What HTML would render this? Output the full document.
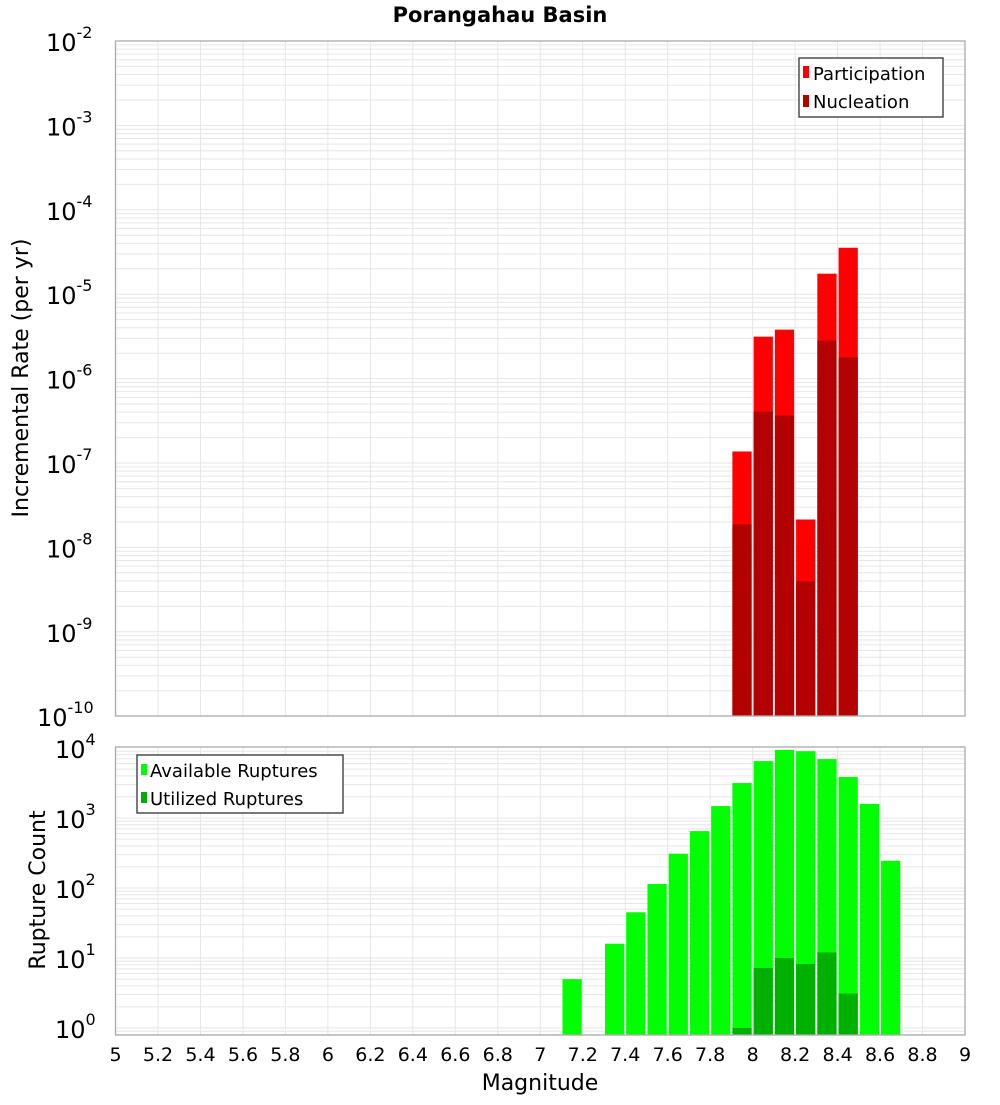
<!DOCTYPE html>
<html><head><meta charset="utf-8"><style>
body{margin:0;background:#fff;}
svg text{font-family:"DejaVu Sans","Liberation Sans",sans-serif;}
</style></head><body>
<svg id="c" width="1000" height="1100" xmlns="http://www.w3.org/2000/svg">
<text x="500" y="22" text-anchor="middle" font-size="21" font-weight="bold">Porangahau Basin</text>
<g id="top"></g>
<g id="bot"></g>
<text transform="translate(28,378) rotate(-90)" text-anchor="middle" font-size="22">Incremental Rate (per yr)</text>
<text transform="translate(45,890) rotate(-90)" text-anchor="middle" font-size="22">Rupture Count</text>
<text x="540" y="1090" text-anchor="middle" font-size="22">Magnitude</text>
<g>
<rect x="799" y="58" width="144" height="59" fill="#fff" stroke="#333" stroke-width="1.3"/>
<rect x="803" y="66" width="6" height="12" fill="#ff0000"/>
<text x="813" y="80" font-size="18">Participation</text>
<rect x="803" y="95" width="6" height="12" fill="#b30000"/>
<text x="813" y="108" font-size="18">Nucleation</text>
</g>
<g>
<rect x="137" y="755" width="206" height="58" fill="#fff" stroke="#333" stroke-width="1.3"/>
<rect x="141" y="764" width="6" height="11" fill="#00ff00"/>
<text x="150" y="777" font-size="18">Available Ruptures</text>
<rect x="141" y="792" width="6" height="11" fill="#00b000"/>
<text x="150" y="805" font-size="18">Utilized Ruptures</text>
</g>
</svg>
<script>
const magBins=[7.15,7.25,7.35,7.45,7.55,7.65,7.75,7.85,7.95,8.05,8.15,8.25,8.35,8.45,8.55,8.65];
const rateMags=[7.95,8.05,8.15,8.25,8.35,8.45];
const participation=[1.37e-7,3.14e-6,3.8e-6,2.14e-8,1.75e-5,3.55e-5];
const nucleation=[1.87e-8,4.07e-7,3.65e-7,3.96e-9,2.82e-6,1.78e-6];
const available=[5,0,16,45,114,309,650,1480,3160,6500,9400,9000,6950,3860,1590,245];
const utilized=[0,0,0,0,0,0,0,0,1,7.2,10,8.2,12,3.1,0,0];
const xTicks=[5,5.2,5.4,5.6,5.8,6,6.2,6.4,6.6,6.8,7,7.2,7.4,7.6,7.8,8,8.2,8.4,8.6,8.8,9];
const topExp=[-2,-3,-4,-5,-6,-7,-8,-9,-10];
const botExp=[4,3,2,1,0];
const NS="http://www.w3.org/2000/svg";
const L=115.5,R=965;
const x=m=>L+(m-5)*(R-L)/4;
const yT=v=>41+(-2-Math.log10(v))*84.4;
const yB=v=>1028-70*Math.log10(v);
function el(p,t,a){const e=document.createElementNS(NS,t);for(const k in a)e.setAttribute(k,a[k]);p.appendChild(e);return e;}
function panel(g,top,bot,y,lo,hi,exps,name){
  for(let d=lo;d<hi;d++)for(let k=1;k<10;k++){const yy=y(k*Math.pow(10,d));if(yy<top-0.5||yy>bot)continue;
    const ln=el(g,'line',{x1:L,x2:R,y1:yy,y2:yy,stroke:'#e6e6e6','stroke-width':1});
    }
  xTicks.forEach(t=>{const ln=el(g,'line',{x1:x(t),x2:x(t),y1:top,y2:bot,stroke:'#e6e6e6','stroke-width':1});
    });
  exps.forEach(e=>{const yy=y(Math.pow(10,e));
    const t=el(g,'text',{x:L-8,y:yy+10,'font-size':24,'text-anchor':'end'});
    
    t.innerHTML='10<tspan dy="-13" font-size="16">'+e+'</tspan>';
    t.setAttribute('x',L-30-(String(e).length-1)*9);t.setAttribute('text-anchor','end');
    const s=t.querySelector('tspan');s.setAttribute('x',L-30-(String(e).length-1)*9);s.setAttribute('text-anchor','start');});
}
const gt=document.getElementById('top'),gb=document.getElementById('bot');
panel(gt,41,716,yT,-10,-2,topExp,'top');
panel(gb,747,1035,yB,-1,4,botExp,'bottom');
const bw=(R-L)/40;
rateMags.forEach((m,i)=>{
  const y1=yT(participation[i]);
  const r=el(gt,'rect',{x:x(m)-bw/2+1,y:y1,width:bw-2,height:716-y1,fill:'#ff0000'});
  
  const y2=yT(nucleation[i]);
  const r2=el(gt,'rect',{x:x(m)-bw/2+1,y:y2,width:bw-2,height:716-y2,fill:'#b30000'});
  
});
magBins.forEach((m,i)=>{
  if(available[i]>0){const y1=Math.max(747,yB(available[i]));
    const r=el(gb,'rect',{x:x(m)-bw/2+1,y:y1,width:bw-2,height:1035-y1,fill:'#00ff00'});
    }
  if(utilized[i]>0){const y2=yB(utilized[i]);
    const r2=el(gb,'rect',{x:x(m)-bw/2+1,y:y2,width:bw-2,height:1035-y2,fill:'#00b000'});
    }
});
[[gt,41,716],[gb,747,1035]].forEach(([g,t,b])=>{
  const f=el(g,'rect',{x:L,y:t,width:R-L,height:b-t,fill:'none',stroke:'#aaa','stroke-width':1.3});
  });
xTicks.forEach(t=>{const tx=el(gb,'text',{x:x(t),y:1061,'font-size':19,'text-anchor':'middle'});
  tx.textContent=String(t);});
</script>
</body></html>
